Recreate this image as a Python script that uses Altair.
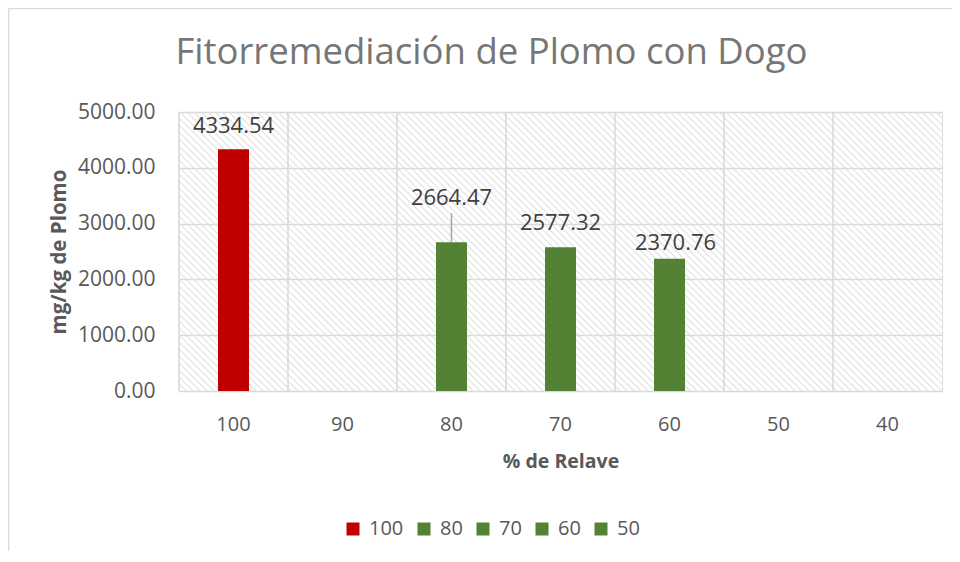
import altair as alt
import numpy as np
import pandas as pd

# ---- data ----
categories = ["100", "90", "80", "70", "60", "50", "40"]
values = [4334.54, None, 2664.47, 2577.32, 2370.76, None, None]
legend_series = ["100", "80", "70", "60", "50"]
legend_colors = ["#C00000", "#548235", "#548235", "#548235", "#548235"]
y_ticks = [0, 1000, 2000, 3000, 4000, 5000]

# ---- styles ----
W, H = 763, 279
FONT = "Open Sans"
label_lift = {"100": (0, 16), "80": (0, 37), "70": (0, 17), "60": (6, 9)}

df = pd.DataFrame({"cat": categories, "value": values})
df["series"] = df["cat"]
bars_df = df.dropna(subset=["value"])

x_enc = alt.X("cat:N", sort=categories,
              scale=alt.Scale(paddingInner=0, paddingOuter=0),
              axis=alt.Axis(title="% de Relave", labelAngle=0, ticks=False, tickSize=0,
                            domain=False, grid=False, labelPadding=33, bandPosition=0.5,
                            labelAlign="center",
                            labelFontSize=20, labelColor="#595959", labelFont=FONT,
                            titleFontSize=19.5, titleFontWeight="bold", titleColor="#595959",
                            titleFont=FONT, titlePadding=18))
y_enc = alt.Y("value:Q", scale=alt.Scale(domain=[0, 5000], nice=False),
              axis=alt.Axis(title="mg/kg de Plomo", values=y_ticks, format=".2f",
                            ticks=False, tickSize=0, domain=False, grid=True,
                            gridColor="#d9d9d9", gridWidth=1.5,
                            labelPadding=24, labelFontSize=21, labelColor="#595959",
                            labelFont=FONT, titleFontSize=20.5, titleFontWeight="bold",
                            titleColor="#595959", titleFont=FONT, titlePadding=8))

# hatched background of the plot area (decoration)
offs = np.arange(-H, W + 7, 7)
hatch_df = pd.DataFrame({"x1": offs, "x2": offs + H, "y1": 0, "y2": H})
hatch = alt.Chart(hatch_df).mark_rule(color="#e2e2e2", strokeWidth=1.2, clip=True).encode(
    x=alt.X("x1:Q", scale=alt.Scale(domain=[0, W], nice=False, zero=False), axis=None),
    x2="x2:Q",
    y=alt.Y("y1:Q", scale=alt.Scale(domain=[0, H], nice=False, reverse=True), axis=None),
    y2="y2:Q",
)

# outer chart frame, left and top edges (decoration)
one = pd.DataFrame({"k": [0]})
frame_left = alt.Chart(one).mark_rule(color="#d9d9d9", strokeWidth=1.5).encode(
    x=alt.value(-170.5), y=alt.value(-103.5), y2=alt.value(470))
frame_top = alt.Chart(one).mark_rule(color="#d9d9d9", strokeWidth=1.5).encode(
    x=alt.value(-170.5), x2=alt.value(820), y=alt.value(-103.5))

# vertical grid lines between categories
vgrid = alt.Chart(df).mark_rule(color="#d9d9d9", strokeWidth=1.5, xOffset=-W / 14).encode(
    x=alt.X("cat:N", sort=categories),
    y=alt.datum(0), y2=alt.datum(5000),
)

bars = alt.Chart(bars_df).mark_bar(size=31).encode(
    x=x_enc,
    y=y_enc,
    color=alt.Color("series:N",
                    scale=alt.Scale(domain=legend_series, range=legend_colors),
                    sort=legend_series,
                    legend=alt.Legend(title=None, orient="none", direction="horizontal",
                                      columns=5, legendX=164, legendY=407,
                                      symbolType="square", symbolSize=169,
                                      symbolStrokeWidth=0, labelFontSize=20,
                                      labelColor="#595959", labelFont=FONT,
                                      labelOffset=6, columnPadding=10)),
)

leader = alt.Chart(bars_df[bars_df["cat"] == "80"]).mark_rule(
    color="#a6a6a6", strokeWidth=1.5, y2Offset=-29
).encode(x=alt.X("cat:N", sort=categories), y="value:Q", y2="value:Q")

labels = []
for c, (dx, lift) in label_lift.items():
    labels.append(
        alt.Chart(bars_df[bars_df["cat"] == c]).mark_text(
            baseline="alphabetic", dx=dx, dy=-lift, fontSize=22, font=FONT, color="#404040"
        ).encode(x=alt.X("cat:N", sort=categories), y="value:Q",
                 text=alt.Text("value:Q", format=".2f"))
    )

main = alt.layer(vgrid, bars, leader, *labels)

chart = alt.layer(frame_left, frame_top, hatch, main).resolve_scale(
    x="independent", y="independent"
).properties(
    width=W, height=H,
    title=alt.TitleParams("Fitorremediación de Plomo con Dogo", fontSize=36.5, font=FONT,
                          fontWeight="normal", color="#767676", anchor="middle",
                          dx=-69, offset=-64),
    autosize=alt.AutoSizeParams(type="none"),
    padding={"left": 171, "top": 104, "right": 10, "bottom": 160},
).configure_view(stroke="#d9d9d9", strokeWidth=1.5).configure(background="white")

chart.save("out.html", embed_options={"renderer": "svg", "actions": False})
